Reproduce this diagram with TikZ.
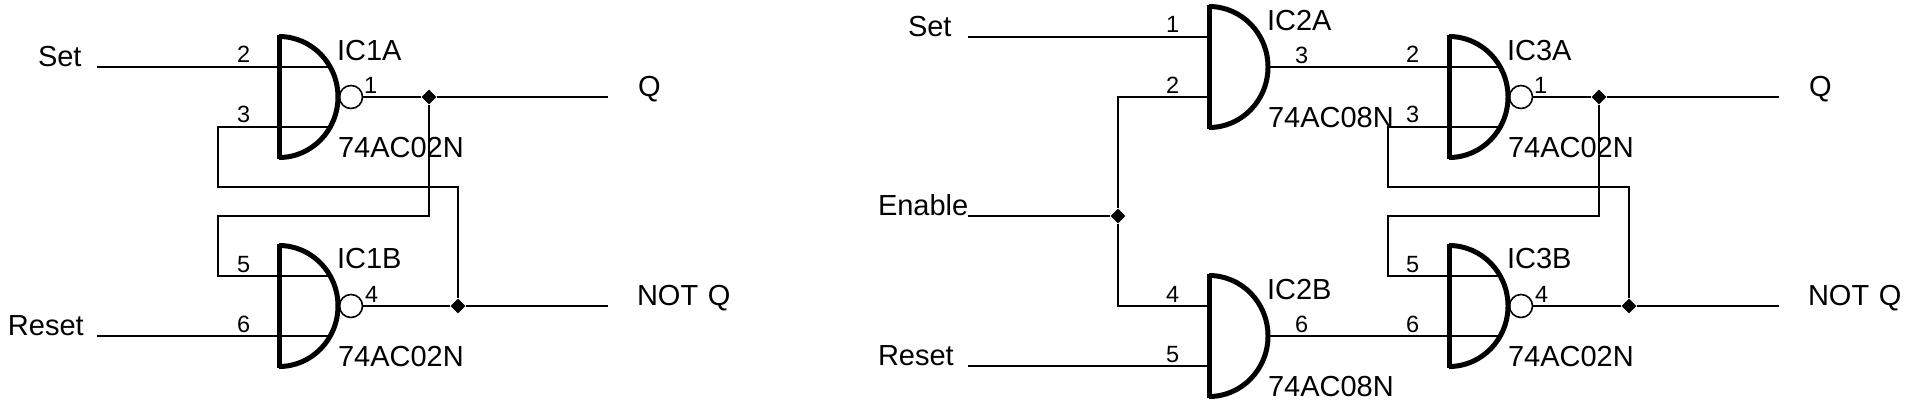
\documentclass[tikz,border=0pt]{standalone}
\usepackage{fontspec}
\setmainfont{Liberation Sans}
\usetikzlibrary{shapes.geometric}
\tikzset{
  wire/.style={draw=black,line width=2pt,line join=miter},
  gatebar/.style={draw=black,line width=5pt},
  gatearc/.style={draw=black,line width=5pt},
  bubble/.style={circle,draw=black,line width=1.6pt,inner sep=0pt,minimum size=23pt},
  junction/.style={diamond,fill=black,draw=none,inner sep=0pt,minimum size=15pt},
  lbl/.style={anchor=base west,inner sep=0pt,outer sep=0pt,font=\fontsize{29}{29}\selectfont},
  pin/.style={anchor=base west,inner sep=0pt,outer sep=0pt,font=\fontsize{23.5}{23.5}\selectfont},
}
\newcommand{\gatebody}[3]{%
  \draw[gatearc] (#2,#3-60.5) arc[start angle=90,end angle=-90,x radius=59pt,y radius=60.5pt];
  \draw[gatebar] (#2,#3-62) -- (#2,#3+62);
}
\newcommand{\norgate}[3]{%
  \coordinate (#1-a) at (#2+51,#3-30);
  \coordinate (#1-b) at (#2+51,#3+30);
  \node[bubble] (#1-o) at (#2+72,#3) {};
  \gatebody{#1}{#2}{#3}
}
\newcommand{\andgate}[3]{%
  \coordinate (#1-a) at (#2,#3-30);
  \coordinate (#1-b) at (#2,#3+30);
  \coordinate (#1-o) at (#2+60,#3);
  \gatebody{#1}{#2}{#3}
}
\begin{document}
\begin{tikzpicture}[x=1pt,y=-1pt]
\useasboundingbox (0,0) rectangle (1911,405);
% gates
\norgate{ica}{279}{97}
\norgate{icb}{279}{306}
\andgate{icc}{1209}{67}
\andgate{icd}{1209}{336}
\norgate{ice}{1449}{97}
\norgate{icf}{1449}{306}
% junctions
\node[junction] (j1) at (429,97) {};
\node[junction] (j2) at (458,306) {};
\node[junction] (j3) at (1118,216) {};
\node[junction] (j4) at (1599,97) {};
\node[junction] (j5) at (1629,306) {};
% free ends and bends
\coordinate (s1) at (97,67);
\coordinate (r1) at (97,336);
\coordinate (q1) at (608,97);
\coordinate (n1) at (608,306);
\coordinate (b1) at (218,187);
\coordinate (b2) at (218,216);
\coordinate (s2) at (968,37);
\coordinate (e2) at (968,216);
\coordinate (r2) at (968,366);
\coordinate (q2) at (1779,97);
\coordinate (n2) at (1779,306);
\coordinate (b3) at (1388,187);
\coordinate (b4) at (1388,216);
% left circuit wires
\draw[wire] (s1) -- (ica-a);
\draw[wire] (r1) -- (icb-b);
\draw[wire] (ica-o) -- (j1);
\draw[wire] (j1) -- (q1);
\draw[wire] (icb-o) -- (j2);
\draw[wire] (j2) -- (n1);
\draw[wire] (ica-b) -| (b1) -| (j2);
\draw[wire] (j1) |- (b2) |- (icb-a);
% right circuit wires
\draw[wire] (s2) -- (icc-a);
\draw[wire] (r2) -- (icd-b);
\draw[wire] (e2) -- (j3);
\draw[wire] (icc-b) -| (j3);
\draw[wire] (icd-a) -| (j3);
\draw[wire] (icc-o) -- (ice-a);
\draw[wire] (icd-o) -- (icf-b);
\draw[wire] (ice-o) -- (j4);
\draw[wire] (j4) -- (q2);
\draw[wire] (icf-o) -- (j5);
\draw[wire] (j5) -- (n2);
\draw[wire] (ice-b) -| (b3) -| (j5);
\draw[wire] (j4) |- (b4) |- (icf-a);
% left labels
\node[lbl] (t1) at (38,66) {Set};
\node[lbl] (t2) at (8,335) {Reset};
\node[lbl] (t3) at (638,96) {Q};
\node[lbl] (t4) at (637,305) {NOT\hspace{1.5pt} Q};
\node[lbl] (t5) at (337,60) {IC1A};
\node[lbl] (t6) at (337,268) {IC1B};
\node[lbl] (t7) at (338,157) {74AC02N};
\node[lbl] (t8) at (338,366) {74AC02N};
\node[pin] (p1) at (237,62.5) {2};
\node[pin] (p2) at (237,122.5) {3};
\node[pin] (p3) at (237,272) {5};
\node[pin] (p4) at (237,332) {6};
\node[pin] (p5) at (364,93) {1};
\node[pin] (p6) at (365,302) {4};
% middle labels
\node[lbl] (t9) at (908,36) {Set};
\node[lbl] (t10) at (878,215) {Enable};
\node[lbl] (t11) at (878,365) {Reset};
\node[lbl] (t12) at (1267,30) {IC2A};
\node[lbl] (t13) at (1267,299) {IC2B};
\node[lbl] (t14) at (1268,127) {74AC08N};
\node[lbl] (t15) at (1268,396) {74AC08N};
\node[pin] (p7) at (1166,32) {1};
\node[pin] (p8) at (1166,93) {2};
\node[pin] (p9) at (1166,302) {4};
\node[pin] (p10) at (1166,362) {5};
\node[pin] (p11) at (1295,63) {3};
\node[pin] (p12) at (1295,332) {6};
% right labels
\node[pin] (p13) at (1406,62.5) {2};
\node[pin] (p14) at (1406,122.5) {3};
\node[pin] (p15) at (1406,272) {5};
\node[pin] (p16) at (1406,332) {6};
\node[pin] (p17) at (1534,93) {1};
\node[pin] (p18) at (1535,302) {4};
\node[lbl] (t16) at (1507,60) {IC3A};
\node[lbl] (t17) at (1507,268) {IC3B};
\node[lbl] (t18) at (1508,157) {74AC02N};
\node[lbl] (t19) at (1508,366) {74AC02N};
\node[lbl] (t20) at (1809,96) {Q};
\node[lbl] (t21) at (1808,305) {NOT\hspace{1.5pt} Q};
\end{tikzpicture}
\end{document}
